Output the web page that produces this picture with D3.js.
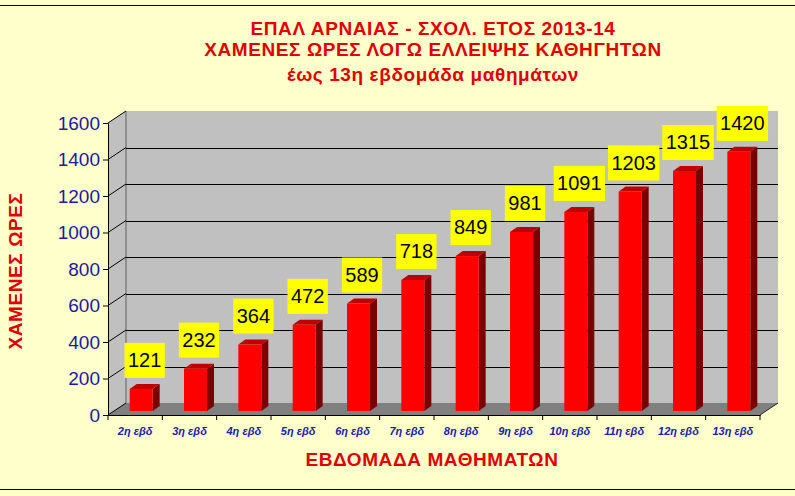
<!DOCTYPE html>
<html>
<head>
<meta charset="utf-8">
<script src="https://cdn.jsdelivr.net/npm/d3@7"></script>
<style>
  body { margin: 0; background: #ffffcc; }
  svg { display: block; font-family: Arial, "Liberation Sans", sans-serif; }
</style>
</head>
<body>
<div id="chart"></div>
<script>
// data
const weeks = ["2η εβδ", "3η εβδ", "4η εβδ", "5η εβδ", "6η εβδ", "7η εβδ", "8η εβδ",
               "9η εβδ", "10η εβδ", "11η εβδ", "12η εβδ", "13η εβδ"];
const lostHours = [121, 232, 364, 472, 589, 718, 849, 981, 1091, 1203, 1315, 1420];
const yTicks = [0, 200, 400, 600, 800, 1000, 1200, 1400, 1600];
const titleLines = ["ΕΠΑΛ ΑΡΝΑΙΑΣ - ΣΧΟΛ. ΕΤΟΣ 2013-14",
                    "ΧΑΜΕΝΕΣ ΩΡΕΣ ΛΟΓΩ ΕΛΛΕΙΨΗΣ ΚΑΘΗΓΗΤΩΝ",
                    "έως 13η εβδομάδα μαθημάτων"];

const width = 795, height = 496;
const svg = d3.select("#chart").append("svg")
    .attr("width", width)
    .attr("height", height);

svg.append("rect").attr("width", width).attr("height", height).attr("fill", "#ffffcc");
// frame lines top & bottom
svg.append("line").attr("x1", 0).attr("x2", width).attr("y1", 5.5).attr("y2", 5.5).attr("stroke", "#000");
svg.append("line").attr("x1", 0).attr("x2", width).attr("y1", 489.5).attr("y2", 489.5).attr("stroke", "#000");

// scales (front plane)
const x = d3.scaleBand().domain(weeks).range([108, 760]).paddingInner(0).paddingOuter(0);
const y = d3.scaleLinear().domain([0, 1600]).range([415, 123]);

// 3d depth of the plot box
const depth = {dx: 18, dy: -12};
const x0 = 108, x1 = 760;

// back wall
svg.append("polygon")
    .attr("points", [[x0 + depth.dx, y(1600) + depth.dy], [x1 + depth.dx, y(1600) + depth.dy],
                     [x1 + depth.dx, y(0) + depth.dy], [x0 + depth.dx, y(0) + depth.dy]].join(" "))
    .attr("fill", "#c0c0c0");
// side wall
svg.append("polygon")
    .attr("points", [[x0, y(1600)], [x0 + depth.dx, y(1600) + depth.dy],
                     [x0 + depth.dx, y(0) + depth.dy], [x0, y(0)]].join(" "))
    .attr("fill", "#c0c0c0");
// floor
svg.append("polygon")
    .attr("points", [[x0, y(0)], [x1, y(0)], [x1 + depth.dx, y(0) + depth.dy], [x0 + depth.dx, y(0) + depth.dy]].join(" "))
    .attr("fill", "#808080");
svg.append("line")
    .attr("x1", x1).attr("y1", y(0)).attr("x2", x1 + depth.dx).attr("y2", y(0) + depth.dy)
    .attr("stroke", "#000").attr("stroke-width", 0.8);

// gridlines: side wall diagonals + back wall horizontals
const grid = svg.append("g").attr("stroke", "#000").attr("stroke-width", 1);
grid.selectAll(".gback").data(yTicks.filter(d => d > 0 && d < 1600)).enter().append("line")
    .attr("x1", x0 + depth.dx).attr("x2", x1 + depth.dx)
    .attr("y1", d => Math.round(y(d) + depth.dy) + 0.5).attr("y2", d => Math.round(y(d) + depth.dy) + 0.5);
grid.selectAll(".gside").data(yTicks).enter().append("line")
    .attr("x1", x0).attr("x2", x0 + depth.dx)
    .attr("y1", d => y(d)).attr("y2", d => y(d) + depth.dy);
grid.append("line")
    .attr("x1", x0 + depth.dx).attr("x2", x0 + depth.dx)
    .attr("y1", y(1600) + depth.dy).attr("y2", y(0) + depth.dy)
    .attr("stroke-width", 0.5);

// bars
const barW = 23;
const off = {dx: 6, dy: -4};   // bar front offset inside the box
const bd = {dx: 7, dy: -5};    // bar depth
const bars = svg.append("g").selectAll("g").data(lostHours).enter().append("g");
const bx = (d, i) => x(weeks[i]) + (x.bandwidth() - barW) / 2 + off.dx;
const by = d => y(d) + off.dy;
const by0 = y(0) + off.dy;

bars.append("polygon") // side
    .attr("fill", "#7a0000")
    .attr("points", (d, i) => {
        const l = bx(d, i) + barW;
        return [[l, by(d)], [l + bd.dx, by(d) + bd.dy], [l + bd.dx, by0 + bd.dy], [l, by0]].join(" ");
    });
bars.append("polygon") // top
    .attr("fill", "#c00000")
    .attr("points", (d, i) => {
        const l = bx(d, i);
        return [[l, by(d)], [l + bd.dx, by(d) + bd.dy], [l + barW + bd.dx, by(d) + bd.dy], [l + barW, by(d)]].join(" ");
    });
bars.append("rect") // front
    .attr("fill", "#ff0000")
    .attr("x", (d, i) => bx(d, i))
    .attr("y", d => by(d))
    .attr("width", barW)
    .attr("height", d => by0 - by(d));

// value labels in yellow boxes
const labels = svg.append("g").selectAll("g").data(lostHours).enter().append("g")
    .attr("transform", (d, i) => "translate(" + (bx(d, i) + barW / 2 + 3.5) + "," + (by(d) - 12 - 17) + ")");
labels.append("rect")
    .attr("x", d => -(String(d).length * 11.1 + 7) / 2)
    .attr("y", -17)
    .attr("width", d => String(d).length * 11.1 + 7)
    .attr("height", 35)
    .attr("fill", "#ffff00");
labels.append("text")
    .attr("text-anchor", "middle")
    .attr("dy", "0.36em")
    .attr("font-size", 20)
    .attr("fill", "#000")
    .text(d => d);

// y axis
const yAxis = svg.append("g")
    .attr("transform", "translate(" + x0 + ",0)")
    .call(d3.axisLeft(y).tickValues(yTicks).tickSize(5).tickPadding(3).tickFormat(d3.format("d")));
yAxis.selectAll("text").attr("font-size", 19).attr("fill", "#1a1aa6").attr("font-family", "Arial, 'Liberation Sans', sans-serif");
yAxis.selectAll("line,path").attr("stroke", "#000");

// x axis
const xAxis = svg.append("g")
    .attr("transform", "translate(0," + y(0) + ")")
    .call(d3.axisBottom(x).tickSize(5).tickSizeOuter(0));
xAxis.selectAll(".tick line").remove();
xAxis.selectAll(".tick text")
    .attr("y", 12).attr("dy", "0.71em")
    .attr("font-size", 11).attr("font-style", "italic").attr("font-weight", "bold")
    .attr("fill", "#2020b0").attr("font-family", "Arial, 'Liberation Sans', sans-serif");
xAxis.selectAll("path").attr("stroke", "#000");
// tick marks at band edges
xAxis.selectAll(".edge").data(d3.range(weeks.length + 1)).enter().append("line")
    .attr("x1", i => x0 + i * x.bandwidth()).attr("x2", i => x0 + i * x.bandwidth())
    .attr("y1", 0).attr("y2", 5).attr("stroke", "#000");

// titles
svg.append("g").selectAll("text").data(titleLines).enter().append("text")
    .attr("x", 433)
    .attr("y", (d, i) => [35, 56, 81][i])
    .attr("text-anchor", "middle")
    .attr("font-size", 19).attr("letter-spacing", 0.6)
    .attr("font-weight", "bold").attr("fill", "#e00000")
    .text(d => d);

svg.append("text")
    .attr("x", 432).attr("y", 466)
    .attr("text-anchor", "middle")
    .attr("font-size", 19).attr("letter-spacing", 0.6)
    .attr("font-weight", "bold").attr("fill", "#e00000")
    .text("ΕΒΔΟΜΑΔΑ ΜΑΘΗΜΑΤΩΝ");

svg.append("text")
    .attr("transform", "translate(22,271) rotate(-90)")
    .attr("text-anchor", "middle")
    .attr("font-size", 19).attr("letter-spacing", 0.6)
    .attr("font-weight", "bold").attr("fill", "#e00000")
    .text("ΧΑΜΕΝΕΣ ΩΡΕΣ");
</script>
</body>
</html>
